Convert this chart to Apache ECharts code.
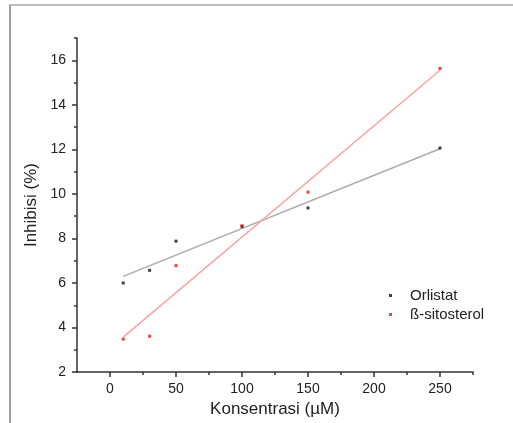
<!DOCTYPE html>
<html>
<head>
<meta charset="utf-8">
<script src="https://cdn.jsdelivr.net/npm/echarts@6/dist/echarts.min.js"></script>
<style>
  html, body { margin: 0; padding: 0; background: #fff; }
  .frame {
    position: absolute; left: 9px; top: 4px; width: 504px; height: 417px;
    border-top: 2px solid #bcbcbc; border-left: 2px solid #a0a0a0; border-bottom: 1px solid #eeeeee;
  }
  #chart { position: absolute; left: 0; top: 0; width: 513px; height: 423px; }
</style>
</head>
<body>
<div class="frame"></div>
<div id="chart"></div>
<script>
// concentrations (µM)
const concentrations = [10, 30, 50, 100, 150, 250];
// inhibition (%)
const orlistat = [6.0, 6.57, 7.88, 8.54, 9.37, 12.06];
const sitosterol = [3.48, 3.61, 6.78, 8.57, 10.08, 15.63];
// linear fit endpoints
const fitX = [10, 250];
const orlistatFit = [6.3, 12.03];
const sitosterolFit = [3.57, 15.55];
// ticks
const xMajor = [0, 50, 100, 150, 200, 250];
const xMinor = [25, 75, 125, 175, 225, 275];
const yMajor = [2, 4, 6, 8, 10, 12, 14, 16];
const yMinor = [3, 5, 7, 9, 11, 13, 15, 17];

const pairs = (xs, ys) => xs.map((x, i) => [x, ys[i]]);

const font = 'Liberation Sans, Arial, sans-serif';
const axisColor = '#333';

const chart = echarts.init(document.getElementById('chart'));
chart.setOption({
  animation: false,
  backgroundColor: 'transparent',
  textStyle: { fontFamily: font },
  grid: { left: 77, top: 38, right: 40, bottom: 50 },
  legend: {
    orient: 'vertical',
    left: 384,
    top: 283,
    icon: 'rect',
    itemWidth: 3,
    itemHeight: 3,
    itemGap: 4,
    data: ['Orlistat', 'ß-sitosterol'],
    textStyle: { fontSize: 15, color: '#222', fontFamily: font, padding: [0, 0, 0, 13], lineHeight: 15 },
  },
  xAxis: [{
    type: 'value',
    min: -25,
    max: 275,
    position: 'bottom',
    name: 'Konsentrasi (µM)',
    nameLocation: 'middle',
    nameGap: 28,
    nameTextStyle: { fontSize: 17, color: '#222', fontFamily: font },
    splitLine: { show: false },
    axisLine: { onZero: false, lineStyle: { color: axisColor, width: 1.5 } },
    axisTick: { customValues: xMajor, length: 5, lineStyle: { color: axisColor, width: 1.5 } },
    axisLabel: { customValues: xMajor, fontSize: 14, color: '#222', margin: 10 },
  }, {
    type: 'value',
    min: -25,
    max: 275,
    position: 'bottom',
    splitLine: { show: false },
    axisLine: { show: false, onZero: false },
    axisTick: { customValues: xMinor, length: 3, lineStyle: { color: axisColor, width: 1.5 } },
    axisLabel: { show: false },
  }],
  yAxis: [{
    type: 'value',
    min: 2,
    max: 17,
    position: 'left',
    name: 'Inhibisi (%)',
    nameLocation: 'middle',
    nameGap: 35,
    nameTextStyle: { fontSize: 17, color: '#222', fontFamily: font },
    splitLine: { show: false },
    axisLine: { onZero: false, lineStyle: { color: axisColor, width: 1.5 } },
    axisTick: { customValues: yMajor, length: 5, lineStyle: { color: axisColor, width: 1.5 } },
    axisLabel: { customValues: yMajor, fontSize: 14, color: '#222', margin: 11 },
  }, {
    type: 'value',
    min: 2,
    max: 17,
    position: 'left',
    splitLine: { show: false },
    axisLine: { show: false, onZero: false },
    axisTick: { customValues: yMinor, length: 3, lineStyle: { color: axisColor, width: 1.5 } },
    axisLabel: { show: false },
  }],
  series: [{
    name: 'Orlistat fit',
    type: 'line',
    data: pairs(fitX, orlistatFit),
    showSymbol: false,
    lineStyle: { color: '#ababab', width: 1.5 },
    z: 1,
  }, {
    name: 'ß-sitosterol fit',
    type: 'line',
    data: pairs(fitX, sitosterolFit),
    showSymbol: false,
    lineStyle: { color: '#f7a3a3', width: 1.5 },
    z: 1,
  }, {
    name: 'Orlistat',
    type: 'scatter',
    data: pairs(concentrations, orlistat),
    symbol: 'rect',
    symbolSize: 3,
    itemStyle: { color: '#111' },
    z: 3,
  }, {
    name: 'ß-sitosterol',
    type: 'scatter',
    data: pairs(concentrations, sitosterol),
    symbol: 'rect',
    symbolSize: 3,
    itemStyle: { color: '#f01010' },
    z: 3,
  }],
});
</script>
</body>
</html>
